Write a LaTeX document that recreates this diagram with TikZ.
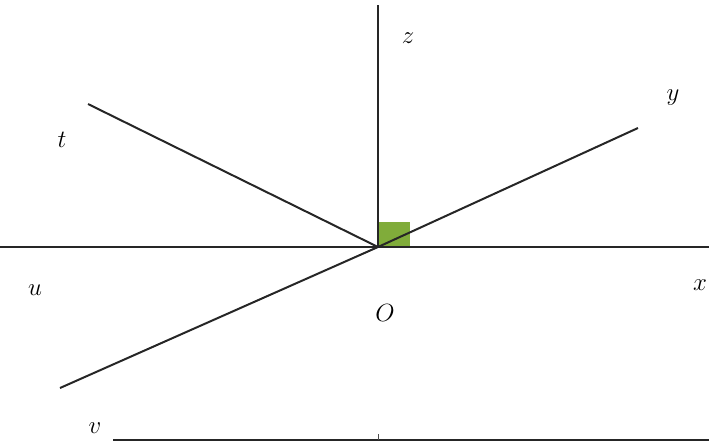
\documentclass[tikz,border=0pt]{standalone}
\definecolor{angleg}{RGB}{128,172,58}
\begin{document}
\begin{tikzpicture}[x=1pt,y=-1pt,
  axis/.style={line width=2pt,draw=black!85},
  lbl/.style={font=\fontsize{32}{36}\selectfont,inner sep=0pt}]
\useasboundingbox (0,0) rectangle (709,445);
\fill[angleg] (378,222) rectangle (410,247);
\coordinate (O) at (378,247);
\coordinate (zt) at (378,5);
\coordinate (ul) at (0,247);
\coordinate (xr) at (709,247);
\coordinate (te) at (88,104);
\coordinate (ye) at (638,128);
\coordinate (ve) at (60,388);
\coordinate (bl) at (113,440);
\coordinate (br) at (709,440);
\coordinate (tk) at (378,434);
\draw[axis] (O) -- (zt);
\draw[axis] (ul) -- (xr);
\draw[axis] (O) -- (te);
\draw[axis] (O) -- (ye);
\draw[axis] (O) -- (ve);
\draw[line width=1.6pt,draw=black!85] (bl) -- (br);
\draw[line width=0.8pt,draw=black!70] (tk) -- (378,440);
\node[lbl] (lz) at (408,38) {$z$};
\node[lbl] (lt) at (62,140) {$t$};
\node[lbl] (ly) at (673,98) {$y$};
\node[lbl] (lu) at (35,290) {$u$};
\node[lbl] (lO) at (385,313) {$O$};
\node[lbl] (lx) at (700,285) {$x$};
\node[lbl] (lv) at (95,428) {$v$};
\end{tikzpicture}
\end{document}
